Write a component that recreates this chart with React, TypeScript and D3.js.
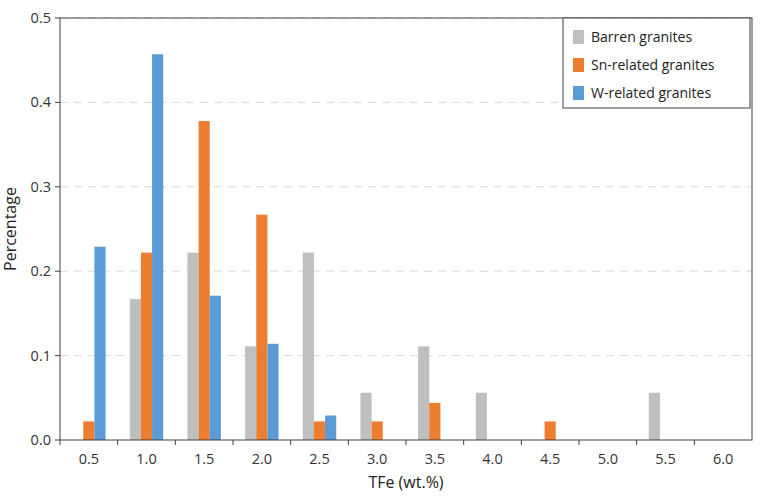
import React from "react"
import * as d3 from "d3"

const categories = ["0.5", "1.0", "1.5", "2.0", "2.5", "3.0", "3.5", "4.0", "4.5", "5.0", "5.5", "6.0"]
const barren = [0, 0.167, 0.222, 0.111, 0.222, 0.056, 0.111, 0.056, 0, 0, 0.056, 0]
const snRelated = [0.022, 0.222, 0.378, 0.267, 0.022, 0.022, 0.044, 0, 0.022, 0, 0, 0]
const wRelated = [0.229, 0.457, 0.171, 0.114, 0.029, 0, 0, 0, 0, 0, 0, 0]
const yTicks = [0, 0.1, 0.2, 0.3, 0.4, 0.5]

const SERIES = [
  { name: "Barren granites", values: barren, color: "#bfbfbf" },
  { name: "Sn-related granites", values: snRelated, color: "#ed7d31" },
  { name: "W-related granites", values: wRelated, color: "#5b9bd5" },
]

const W = 763
const H = 498
const M = { top: 18, right: 11, bottom: 58, left: 60 }
const FONT = "'Open Sans', 'Liberation Sans', sans-serif"

export default function App() {
  const innerW = W - M.left - M.right
  const innerH = H - M.top - M.bottom
  const x = d3.scaleBand().domain(categories).range([0, innerW]).paddingInner(0.42).paddingOuter(0.21)
  const sub = d3.scaleBand().domain(SERIES.map((s) => s.name)).range([0, x.bandwidth()])
  const y = d3.scaleLinear().domain([0, 0.5]).range([innerH, 0])

  return (
    <svg width={W} height={H} style={{ position: "absolute", left: 0, top: 0, fontFamily: FONT }}>
      <rect width={W} height={H} fill="#fff" />
      <g transform={`translate(${M.left},${M.top})`}>
        {yTicks.slice(1).map((t) => (
          <line key={t} x1={0} x2={innerW} y1={y(t)} y2={y(t)} stroke="#d9d9d9" strokeDasharray="8,6" />
        ))}
        {SERIES.map((s) =>
          s.values.map((v, i) =>
            v > 0 ? (
              <rect key={s.name + i} x={(x(categories[i]) ?? 0) + (sub(s.name) ?? 0)} y={y(v)}
                width={sub.bandwidth()} height={innerH - y(v)} fill={s.color} />
            ) : null
          )
        )}
        <rect x={0} y={0} width={innerW} height={innerH} fill="none" stroke="#404040" strokeWidth={1} />
        {yTicks.map((t) => (
          <g key={t}>
            <line x1={-5} x2={0} y1={y(t)} y2={y(t)} stroke="#404040" />
            <text x={-9} y={y(t)} dy="0.35em" textAnchor="end" fontSize={14.5} fill="#333">{t === 0 ? "0.0" : t.toFixed(1)}</text>
          </g>
        ))}
        {categories.map((c, i) => (
          <g key={c}>
            <line x1={(i * innerW) / categories.length} x2={(i * innerW) / categories.length} y1={innerH} y2={innerH + 5} stroke="#404040" />
            <text x={(x(c) ?? 0) + x.bandwidth() / 2} y={innerH + 24} textAnchor="middle" fontSize={14.5} fill="#333">{c}</text>
          </g>
        ))}
        <text x={innerW / 2} y={innerH + 48} textAnchor="middle" fontSize={16} fill="#222">TFe (wt.%)</text>
        <text transform={`translate(${-44},${innerH / 2}) rotate(-90)`} textAnchor="middle" fontSize={16} fill="#222">Percentage</text>
        <g transform={`translate(${563 - M.left},${0})`}>
          <rect width={187} height={90} fill="#fff" stroke="#404040" />
          {SERIES.map((s, i) => (
            <g key={s.name} transform={`translate(10,${12 + i * 28})`}>
              <rect width={11} height={14} fill={s.color} />
              <text x={18} y={7} dy="0.35em" fontSize={14} fill="#222">{s.name}</text>
            </g>
          ))}
        </g>
      </g>
    </svg>
  )
}
